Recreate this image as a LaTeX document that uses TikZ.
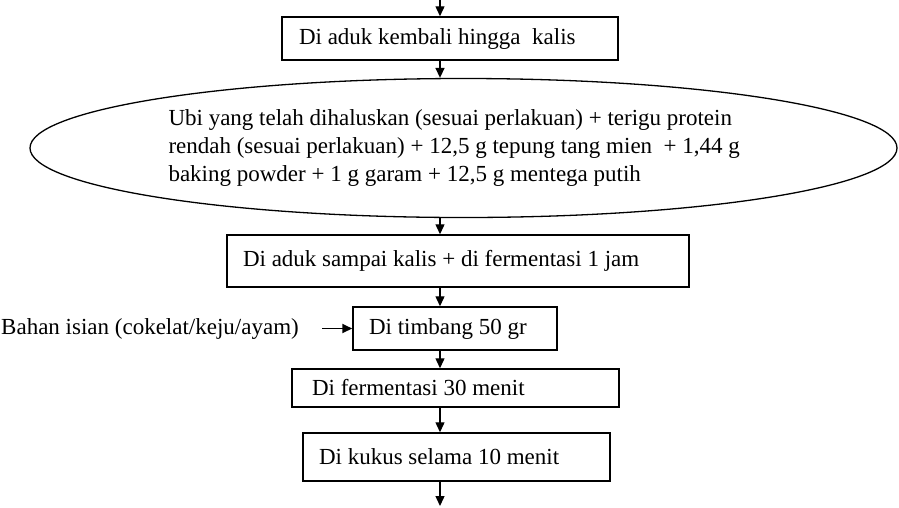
\documentclass[tikz,border=0pt]{standalone}
\usepackage{fontspec}
\setmainfont{Liberation Serif}
\usetikzlibrary{arrows.meta,shapes.geometric}
\begin{document}
\begin{tikzpicture}[x=1pt,y=-1pt,
  txt/.style={font=\fontsize{23}{28}\selectfont, execute at begin node={\spaceskip=0.25em\relax\xspaceskip=0.25em\relax}},
  box/.style={draw, line width=1.5pt, rectangle, inner ysep=0pt, align=left, txt},
  arr/.style={line width=1.4pt, -{Triangle[length=10pt,width=9pt]}}]
\useasboundingbox (0,0) rectangle (899,507);
\coordinate (top) at (440,0);
\coordinate (bot) at (440,506);
\node[box, minimum width=336pt, minimum height=43pt, text width=302pt, inner xsep=17pt] (b1) at (450,38.5) {Di aduk kembali hingga\ \ kalis};
\node[draw, ellipse, line width=1.3pt, minimum width=867pt, minimum height=139pt, inner sep=0pt, align=left, text width=590pt, txt] (ell) at (463.5,148) {Ubi yang telah dihaluskan (sesuai perlakuan) + terigu protein\\rendah (sesuai perlakuan) + 12,5 g tepung tang mien\ \ + 1,44 g\\baking powder + 1 g garam + 12,5 g mentega putih};
\node[box, minimum width=462pt, minimum height=52pt, text width=430pt, inner xsep=16pt] (b2) at (458,261) {Di aduk sampai kalis + di fermentasi 1 jam};
\node[box, minimum width=204pt, minimum height=43pt, text width=172pt, inner xsep=16pt] (b3) at (455,328.5) {Di timbang 50 gr};
\node[box, minimum width=327pt, minimum height=38pt, text width=287pt, inner xsep=20pt] (b4) at (455.5,388) {Di fermentasi 30 menit};
\node[box, minimum width=307pt, minimum height=48pt, text width=275pt, inner xsep=16pt] (b5) at (456.5,457) {Di kukus selama 10 menit};
\node[txt, anchor=west, inner sep=0pt] (fill) at (1,328.5) {Bahan isian (cokelat/keju/ayam)};
\coordinate (fs) at (322,328.5);
\draw[arr] (top) -- (b1.north -| top);
\draw[arr] (b1.south -| top) -- (ell.north -| top);
\draw[arr] (ell.south -| top) -- (b2.north -| top);
\draw[arr] (b2.south -| top) -- (b3.north -| top);
\draw[arr] (b3.south -| top) -- (b4.north -| top);
\draw[arr] (b4.south -| top) -- (b5.north -| top);
\draw[arr] (b5.south -| top) -- (bot);
\draw[arr, line width=1.8pt] (fs) -- (b3.west);
\end{tikzpicture}
\end{document}
